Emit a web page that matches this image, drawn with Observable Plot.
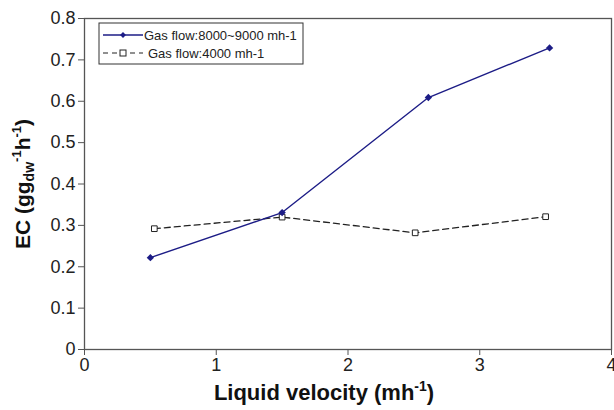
<!DOCTYPE html>
<html><head><meta charset="utf-8">
<script src="https://cdn.jsdelivr.net/npm/d3@7"></script>
<script src="https://cdn.jsdelivr.net/npm/@observablehq/plot@0.6"></script>
<style>
body{margin:0;background:#fff;}
svg{font-family:"Liberation Sans",Arial,sans-serif;}
</style></head>
<body><div id="chart"></div>
<script>
const seriesNames = ["Gas flow:8000~9000 mh-1", "Gas flow:4000 mh-1"];
const velocityHigh = [0.50, 1.50, 2.61, 3.53];
const ecHigh = [0.222, 0.331, 0.609, 0.729];
const velocityLow = [0.53, 1.50, 2.51, 3.50];
const ecLow = [0.292, 0.320, 0.282, 0.321];
const xTicks = [0, 1, 2, 3, 4];
const yTicks = [0, 0.1, 0.2, 0.3, 0.4, 0.5, 0.6, 0.7, 0.8];

const high = velocityHigh.map((x, i) => ({x, y: ecHigh[i]}));
const low = velocityLow.map((x, i) => ({x, y: ecLow[i]}));

const navy = "#1c1c86";
const axisCol = "#555";

const plot = Plot.plot({
  width: 614, height: 410,
  marginLeft: 84, marginRight: 3, marginTop: 18, marginBottom: 61,
  style: {fontFamily: "Liberation Sans, Arial, sans-serif", color: "#222", background: "#fff"},
  x: {domain: [0, 4], ticks: xTicks, label: null},
  y: {domain: [0, 0.8], ticks: yTicks, label: null},
  marks: [
    Plot.frame({stroke: axisCol, strokeWidth: 1.3}),
    Plot.axisX({ticks: xTicks, tickSize: 6, tickPadding: 3, stroke: axisCol, fill: "#222", fontSize: 18, tickFormat: d => String(d)}),
    Plot.axisY({ticks: yTicks, tickSize: 6, tickPadding: 3, stroke: axisCol, fill: "#222", fontSize: 18, tickFormat: d => d === 0 ? "0" : d.toFixed(1)}),
    Plot.line(low, {x: "x", y: "y", stroke: "#222", strokeWidth: 1.3, strokeDasharray: "6,4"}),
    Plot.dot(low, {x: "x", y: "y", symbol: "square", r: 3.2, fill: "white", stroke: "#222", strokeWidth: 1}),
    Plot.line(high, {x: "x", y: "y", stroke: navy, strokeWidth: 1.4}),
    Plot.dot(high, {x: "x", y: "y", symbol: "diamond2", r: 3.3, fill: navy, stroke: "none"})
  ]
});
document.getElementById("chart").appendChild(plot);

const svg = d3.select(plot);

// legend
const lg = svg.append("g").attr("text-anchor", "start");
lg.append("rect").attr("x", 99).attr("y", 23).attr("width", 204).attr("height", 41)
  .attr("fill", "white").attr("stroke", "#333").attr("stroke-width", 1);
lg.append("line").attr("x1", 103).attr("x2", 143).attr("y1", 35).attr("y2", 35).attr("stroke", navy).attr("stroke-width", 1.3);
lg.append("path").attr("d", d3.symbol(d3.symbolDiamond2, 22)()).attr("transform", "translate(123,35)").attr("fill", navy);
lg.append("line").attr("x1", 103).attr("x2", 143).attr("y1", 53).attr("y2", 53).attr("stroke", "#222").attr("stroke-width", 1.2).attr("stroke-dasharray", "5,4");
lg.append("rect").attr("x", 120).attr("y", 50).attr("width", 6).attr("height", 6).attr("fill", "white").attr("stroke", "#222");
lg.append("text").attr("x", 144).attr("y", 39.5).style("font-size", "13px").attr("fill", "#222").text(seriesNames[0]);
lg.append("text").attr("x", 148).attr("y", 57.5).style("font-size", "13px").attr("fill", "#222").text(seriesNames[1]);

// axis labels
const xl = svg.append("text").attr("x", 324).attr("y", 400).attr("text-anchor", "middle")
  .style("font-size", "22px").attr("font-weight", "bold").attr("fill", "#111");
xl.append("tspan").text("Liquid velocity (mh");
xl.append("tspan").attr("dy", -9).style("font-size", "14px").text("-1");
xl.append("tspan").attr("dy", 9).text(")");

const yl = svg.append("text").attr("transform", "translate(30,184) rotate(-90)").attr("text-anchor", "middle")
  .style("font-size", "21px").attr("font-weight", "bold").attr("fill", "#111");
yl.append("tspan").text("EC (gg");
yl.append("tspan").attr("dy", 4).style("font-size", "14px").text("dw");
yl.append("tspan").attr("dy", -13).style("font-size", "13px").text("-1");
yl.append("tspan").attr("dy", 9).text("h");
yl.append("tspan").attr("dy", -9).style("font-size", "13px").text("-1");
yl.append("tspan").attr("dy", 9).text(")");
</script></body></html>
